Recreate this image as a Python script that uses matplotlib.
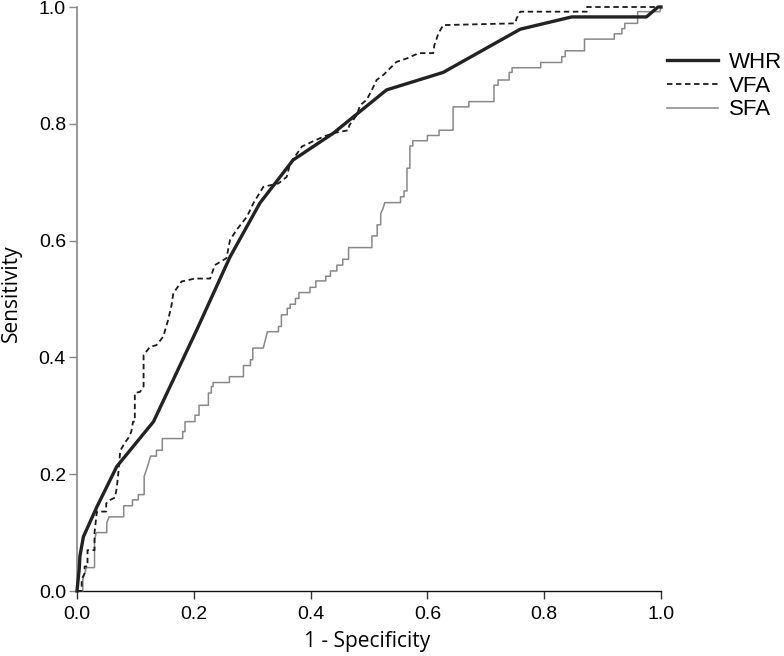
import matplotlib
matplotlib.use('Agg')
import matplotlib.pyplot as plt

plt.rcParams.update({
    'font.family': ['Liberation Sans', 'DejaVu Sans'],
    'font.size': 13,
})

# ROC points
whr_fpr = [0.000, 0.002, 0.004, 0.005, 0.011, 0.034, 0.068, 0.131, 0.205, 0.262,
           0.313, 0.370, 0.439, 0.530, 0.627, 0.759, 0.847, 0.975, 0.995, 1.000]
whr_tpr = [0.000, 0.020, 0.040, 0.060, 0.093, 0.144, 0.213, 0.290, 0.447, 0.572,
           0.664, 0.738, 0.784, 0.858, 0.888, 0.962, 0.983, 0.983, 1.000, 1.000]

vfa_fpr = [0.000, 0.008, 0.008, 0.013, 0.013, 0.018, 0.018, 0.030, 0.030, 0.034,
           0.050, 0.050, 0.057, 0.065, 0.068, 0.071, 0.074, 0.082, 0.088, 0.093,
           0.096, 0.099, 0.099, 0.108, 0.114, 0.114, 0.125, 0.136, 0.148, 0.151,
           0.156, 0.162, 0.165, 0.179, 0.202, 0.228, 0.236, 0.256, 0.262, 0.273,
           0.291, 0.302, 0.319, 0.345, 0.359, 0.365, 0.385, 0.402, 0.422, 0.439,
           0.465, 0.466, 0.479, 0.485, 0.496, 0.505, 0.513, 0.525, 0.539, 0.547,
           0.565, 0.585, 0.610, 0.612, 0.619, 0.627, 0.750, 0.753, 0.759, 0.873,
           0.873, 1.000]
vfa_tpr = [0.000, 0.000, 0.020, 0.030, 0.042, 0.042, 0.070, 0.070, 0.100, 0.136,
           0.136, 0.150, 0.156, 0.160, 0.176, 0.204, 0.240, 0.254, 0.262, 0.273,
           0.290, 0.290, 0.339, 0.341, 0.350, 0.404, 0.418, 0.421, 0.436, 0.447,
           0.464, 0.490, 0.510, 0.530, 0.535, 0.535, 0.558, 0.570, 0.601, 0.618,
           0.641, 0.664, 0.692, 0.698, 0.709, 0.732, 0.761, 0.769, 0.778, 0.784,
           0.789, 0.797, 0.815, 0.832, 0.841, 0.858, 0.875, 0.884, 0.898, 0.906,
           0.912, 0.921, 0.921, 0.935, 0.955, 0.969, 0.972, 0.981, 0.992, 0.992,
           1.000, 1.000]

sfa_fpr = [0.000, 0.010, 0.010, 0.016, 0.030, 0.030, 0.033, 0.051, 0.051, 0.055,
           0.080, 0.080, 0.095, 0.095, 0.105, 0.105, 0.115, 0.115, 0.121, 0.126,
           0.136, 0.136, 0.146, 0.146, 0.181, 0.181, 0.185, 0.185, 0.202, 0.202,
           0.209, 0.209, 0.225, 0.225, 0.230, 0.230, 0.233, 0.233, 0.261, 0.261,
           0.285, 0.285, 0.297, 0.297, 0.301, 0.301, 0.319, 0.326, 0.345, 0.345,
           0.350, 0.350, 0.360, 0.360, 0.365, 0.365, 0.374, 0.374, 0.380, 0.380,
           0.399, 0.399, 0.409, 0.409, 0.426, 0.426, 0.434, 0.434, 0.445, 0.445,
           0.455, 0.455, 0.465, 0.465, 0.505, 0.505, 0.514, 0.514, 0.520, 0.520,
           0.524, 0.527, 0.554, 0.554, 0.560, 0.560, 0.565, 0.565, 0.570, 0.570,
           0.575, 0.575, 0.600, 0.600, 0.620, 0.620, 0.644, 0.644, 0.671, 0.671,
           0.714, 0.714, 0.721, 0.721, 0.740, 0.740, 0.745, 0.745, 0.794, 0.794,
           0.830, 0.830, 0.836, 0.836, 0.869, 0.869, 0.920, 0.920, 0.933, 0.933,
           0.938, 0.938, 0.960, 0.960, 0.998, 1.000]
sfa_tpr = [0.000, 0.000, 0.020, 0.040, 0.040, 0.087, 0.100, 0.100, 0.117, 0.127,
           0.127, 0.146, 0.146, 0.156, 0.156, 0.165, 0.165, 0.196, 0.214, 0.231,
           0.231, 0.241, 0.241, 0.261, 0.261, 0.273, 0.273, 0.290, 0.290, 0.301,
           0.301, 0.318, 0.318, 0.339, 0.339, 0.350, 0.350, 0.357, 0.357, 0.367,
           0.367, 0.386, 0.386, 0.396, 0.396, 0.416, 0.416, 0.444, 0.444, 0.453,
           0.453, 0.473, 0.473, 0.484, 0.484, 0.491, 0.491, 0.501, 0.501, 0.511,
           0.511, 0.520, 0.520, 0.531, 0.531, 0.539, 0.539, 0.548, 0.548, 0.558,
           0.558, 0.568, 0.568, 0.588, 0.588, 0.608, 0.608, 0.627, 0.627, 0.646,
           0.655, 0.665, 0.665, 0.675, 0.675, 0.685, 0.685, 0.724, 0.724, 0.762,
           0.762, 0.771, 0.771, 0.780, 0.780, 0.789, 0.789, 0.829, 0.829, 0.838,
           0.838, 0.866, 0.866, 0.875, 0.875, 0.888, 0.888, 0.896, 0.896, 0.905,
           0.905, 0.915, 0.915, 0.925, 0.925, 0.945, 0.945, 0.954, 0.954, 0.963,
           0.963, 0.972, 0.972, 0.992, 0.992, 1.000]

fig = plt.figure(figsize=(7.84, 6.56), dpi=100)
ax = fig.add_axes([77 / 784, 1 - 591 / 656, 584 / 784, 584 / 656])

ax.plot(sfa_fpr, sfa_tpr, color='#888888', linewidth=1.1, label='SFA', clip_on=False, zorder=3)
ax.plot(vfa_fpr, vfa_tpr, color='#1a1a1a', linewidth=1.3, linestyle=(0, (3, 2)),
        label='VFA', clip_on=False, zorder=4)
ax.plot(whr_fpr, whr_tpr, color='#222222', linewidth=2.4, label='WHR', clip_on=False, zorder=5)

ax.set_xlim(0, 1)
ax.set_ylim(0, 1)
ticks = [0.0, 0.2, 0.4, 0.6, 0.8, 1.0]
ax.set_xticks(ticks)
ax.set_yticks(ticks)
ax.set_xticklabels([f'{t:.1f}' for t in ticks])
ax.set_yticklabels([f'{t:.1f}' for t in ticks])

for side in ['top', 'right']:
    ax.spines[side].set_visible(False)
ax.spines['left'].set_color('#888888')
ax.spines['left'].set_linewidth(1.2)
ax.spines['bottom'].set_color('#111111')
ax.spines['bottom'].set_linewidth(1.0)
ax.tick_params(axis='y', direction='out', length=6, width=1.0, color='#888888',
               labelsize=14, pad=2)
ax.tick_params(axis='x', direction='out', length=6, width=1.0, color='#333333',
               labelsize=14, pad=5)

ax.set_xlabel('1 - Specificity', fontsize=15, family=['Open Sans', 'DejaVu Sans'])
ax.set_ylabel('Sensitivity', fontsize=15, family=['Open Sans', 'DejaVu Sans'])
ax.xaxis.set_label_coords(0.497, -0.069)
ax.yaxis.set_label_coords(-0.094, 0.51)

handles, labels = ax.get_legend_handles_labels()
order = [2, 1, 0]
fig.legend([handles[i] for i in order], [labels[i] for i in order],
           loc='upper left', bbox_to_anchor=(667 / 784, 1 - 52 / 656),
           frameon=False, fontsize=16, handlelength=2.3, handletextpad=0.5,
           labelspacing=0.12, borderpad=0, borderaxespad=0)

fig.savefig('out.png', dpi=100)
